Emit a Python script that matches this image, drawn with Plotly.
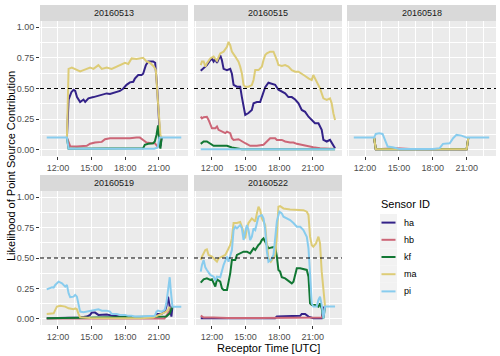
import plotly.graph_objects as go

# facet dates and sensors
dates = ["20160513", "20160515", "20160518", "20160519", "20160522"]
sensors = ["ha", "hb", "kf", "ma", "pi"]
colors = {"ha": "#332288", "hb": "#CC6677", "kf": "#117733",
          "ma": "#DDCC77", "pi": "#88CCEE"}

# (hour of day UTC, likelihood)
ha_0513 = [(12.8, 0.1), (12.95, 0.41), (13.2, 0.47), (13.39, 0.49), (13.54, 0.48), (13.7, 0.43),
           (13.98, 0.39), (14.28, 0.41), (14.43, 0.39), (14.72, 0.42), (15.17, 0.43), (15.61, 0.44), (16.05, 0.455),
           (16.35, 0.46), (16.64, 0.455), (17.09, 0.47), (17.53, 0.48), (17.83, 0.50), (18.12, 0.53), (18.42, 0.55),
           (18.72, 0.555), (18.86, 0.58), (19.16, 0.61), (19.46, 0.61), (19.6, 0.62), (19.84, 0.69), (20.05, 0.72),
           (20.49, 0.72), (20.67, 0.71), (20.85, 0.51), (21.02, 0.24), (21.14, 0.03), (21.25, 0.1)]
hb_0513 = [(12.8, 0.1), (13.09, 0.03), (13.69, 0.027), (14.28, 0.027), (14.57, 0.033), (14.87, 0.05),
           (15.31, 0.06), (15.91, 0.065), (16.2, 0.087), (16.64, 0.095), (17.24, 0.095), (17.83, 0.09), (18.42, 0.095),
           (19.01, 0.10), (19.31, 0.10), (19.6, 0.08), (19.9, 0.06), (20.34, 0.054), (20.64, 0.054), (20.85, 0.03),
           (21.02, 0.027), (21.14, 0.095), (21.25, 0.1)]
kf_0513 = [(12.8, 0.1), (12.95, 0.01), (19.6, 0.014), (19.75, 0.041), (20.05, 0.049), (20.49, 0.054),
           (20.64, 0.068), (20.79, 0.122), (20.93, 0.2), (21.02, 0.08), (21.14, 0.01), (21.25, 0.1)]
ma_0513 = [(12.8, 0.1), (12.95, 0.66), (13.24, 0.67), (13.54, 0.66), (13.98, 0.64), (14.28, 0.65),
           (14.57, 0.66), (14.87, 0.67), (15.17, 0.66), (15.61, 0.69), (15.91, 0.66), (16.35, 0.67), (16.79, 0.66),
           (17.24, 0.68), (17.68, 0.70), (17.98, 0.71), (18.27, 0.70), (18.57, 0.745), (19.01, 0.74), (19.31, 0.745),
           (19.6, 0.75), (19.9, 0.72), (20.2, 0.71), (20.55, 0.68), (20.73, 0.65), (20.93, 0.38), (21.14, 0.12),
           (21.25, 0.1)]
pi_0513 = [(11.0, 0.1), (12.8, 0.1), (12.95, 0.01), (20.6, 0.01), (20.9, 0.02), (21.05, 0.1), (23.0, 0.1)]

ha_0515 = [(11.0, 0.645), (11.11, 0.655), (11.26, 0.66), (11.55, 0.69), (11.85, 0.73), (12.0, 0.745), (12.15, 0.72),
           (12.3, 0.74), (12.45, 0.71), (12.59, 0.737), (12.74, 0.77), (12.89, 0.73), (13.04, 0.66), (13.34, 0.65),
           (13.63, 0.66), (13.78, 0.62), (13.93, 0.53), (14.23, 0.515), (14.52, 0.515), (14.67, 0.43), (14.82, 0.35),
           (14.97, 0.285), (15.26, 0.3), (15.56, 0.325), (15.71, 0.38), (16.01, 0.39), (16.3, 0.39), (16.45, 0.43),
           (16.6, 0.47), (16.75, 0.51), (17.04, 0.547), (17.34, 0.54), (17.64, 0.53), (17.93, 0.49), (18.23, 0.474),
           (18.53, 0.46), (18.82, 0.43), (19.12, 0.43), (19.42, 0.41), (19.72, 0.38), (20.01, 0.325), (20.31, 0.31),
           (20.61, 0.27), (20.9, 0.244), (21.19, 0.217), (21.5, 0.217), (21.79, 0.163), (21.94, 0.081),
           (22.24, 0.068), (22.53, 0.081), (22.83, 0.041), (22.98, 0.014)]
hb_0515 = [(11.0, 0.27), (11.11, 0.257), (11.26, 0.266), (11.55, 0.27), (11.7, 0.244), (11.85, 0.203), (12.0, 0.176),
           (12.3, 0.176), (12.45, 0.19), (12.59, 0.163), (12.89, 0.149), (13.19, 0.136), (13.34, 0.149),
           (13.63, 0.136), (13.78, 0.095), (13.93, 0.081), (14.37, 0.087), (14.67, 0.068), (14.97, 0.054),
           (15.41, 0.033), (16.01, 0.033), (16.6, 0.041), (16.9, 0.068), (17.19, 0.095), (17.64, 0.095),
           (17.79, 0.081), (18.23, 0.081), (18.53, 0.068), (18.97, 0.06), (19.27, 0.06), (19.57, 0.049),
           (20.01, 0.041), (20.46, 0.027), (21.04, 0.022), (21.64, 0.014), (22.98, 0.008)]
kf_0515 = [(11.0, 0.049), (11.26, 0.068), (11.55, 0.068), (11.85, 0.049), (12.15, 0.033), (12.74, 0.033),
           (13.34, 0.033), (13.78, 0.019), (14.23, 0.011), (14.67, 0.005), (22.98, 0.005)]
ma_0515 = [(11.0, 0.69), (11.11, 0.72), (11.26, 0.72), (11.41, 0.678), (11.55, 0.705), (11.85, 0.745), (12.15, 0.76),
           (12.45, 0.726), (12.74, 0.786), (13.04, 0.80), (13.34, 0.84), (13.48, 0.88), (13.63, 0.853), (13.78, 0.80),
           (14.08, 0.76), (14.37, 0.718), (14.52, 0.678), (14.67, 0.623), (14.82, 0.528), (14.97, 0.515),
           (15.26, 0.515), (15.56, 0.528), (15.71, 0.569), (15.86, 0.65), (16.15, 0.65), (16.45, 0.678),
           (16.6, 0.732), (16.75, 0.772), (16.9, 0.786), (17.19, 0.80), (17.49, 0.80), (17.64, 0.772), (17.79, 0.732),
           (17.93, 0.691), (18.23, 0.683), (18.53, 0.691), (18.82, 0.678), (19.12, 0.65), (19.42, 0.637),
           (19.72, 0.637), (20.01, 0.623), (20.31, 0.602), (20.61, 0.583), (20.9, 0.569), (21.04, 0.61),
           (21.35, 0.556), (21.64, 0.501), (21.94, 0.42), (22.24, 0.407), (22.53, 0.42), (22.68, 0.379),
           (22.83, 0.298), (22.98, 0.244)]
pi_0515 = [(11.0, 0.005), (17.0, 0.005), (22.98, 0.005)]

ha_0518 = [(12.8, 0.1), (12.95, 0.005), (21.0, 0.005), (21.15, 0.1)]
hb_0518 = [(12.8, 0.1), (12.95, 0.005), (14.8, 0.014), (16.0, 0.008), (21.0, 0.005), (21.15, 0.1)]
kf_0518 = [(12.8, 0.1), (12.95, 0.005), (21.0, 0.005), (21.15, 0.1)]
ma_0518 = [(12.8, 0.1), (12.95, 0.005), (21.0, 0.005), (21.15, 0.1)]
pi_0518 = [(11.0, 0.1), (12.8, 0.1), (12.95, 0.13), (13.25, 0.135), (13.55, 0.13), (13.7, 0.095), (14.0, 0.027),
           (14.44, 0.022), (14.74, 0.014), (15.04, 0.008), (18.01, 0.008), (18.61, 0.014), (18.9, 0.049),
           (19.5, 0.054), (19.8, 0.095), (20.1, 0.122), (20.54, 0.116), (20.84, 0.103), (21.0, 0.1), (23.0, 0.1)]

ha_0519 = [(11.0, 0.005), (13.69, 0.005), (13.98, 0.011), (14.57, 0.019), (14.87, 0.033), (15.02, 0.052),
           (15.31, 0.052), (15.61, 0.033), (15.91, 0.033), (16.35, 0.036), (16.94, 0.025), (17.53, 0.019),
           (18.12, 0.014), (19.31, 0.011), (20.64, 0.014), (20.79, 0.041), (21.23, 0.041), (21.53, 0.06),
           (21.67, 0.101), (21.82, 0.183), (21.97, 0.101), (22.12, 0.019), (22.21, 0.1)]
hb_0519 = [(11.0, 0.003), (21.5, 0.003), (22.21, 0.1)]
kf_0519 = [(11.0, 0.005), (21.67, 0.019), (21.97, 0.046), (22.21, 0.1)]
ma_0519 = [(11.0, 0.041), (11.32, 0.041), (11.62, 0.046), (11.76, 0.074), (11.91, 0.101), (12.21, 0.107),
           (12.65, 0.101), (12.95, 0.087), (13.39, 0.079), (13.54, 0.087), (13.69, 0.079), (13.83, 0.041),
           (13.98, 0.014), (14.87, 0.008), (16.35, 0.005), (17.83, 0.003), (19.31, 0.005), (20.49, 0.011),
           (20.79, 0.025), (21.23, 0.046), (21.67, 0.06), (21.82, 0.074), (21.97, 0.101)]
pi_0519 = [(11.0, 0.243), (11.32, 0.251), (11.47, 0.26), (11.62, 0.257), (11.76, 0.279), (12.06, 0.306),
           (12.36, 0.292), (12.65, 0.265), (12.8, 0.279), (12.95, 0.21), (13.09, 0.178), (13.39, 0.183),
           (13.54, 0.197), (13.69, 0.183), (13.83, 0.115), (13.98, 0.06), (14.28, 0.055), (14.57, 0.06),
           (14.87, 0.068), (15.17, 0.074), (15.61, 0.079), (15.91, 0.068), (16.35, 0.068), (16.64, 0.06),
           (16.79, 0.041), (17.24, 0.041), (17.53, 0.033), (17.98, 0.033), (18.27, 0.025), (18.57, 0.025),
           (18.86, 0.019), (19.31, 0.019), (20.2, 0.019), (20.64, 0.025), (20.79, 0.06), (20.93, 0.068),
           (21.23, 0.06), (21.53, 0.074), (21.67, 0.128), (21.82, 0.238), (21.97, 0.342), (22.06, 0.238),
           (22.21, 0.1), (23.0, 0.1)]

ha_0522 = [(11.0, 0.005), (17.64, 0.005), (17.79, 0.019), (18.08, 0.019), (19.27, 0.019), (19.87, 0.025),
           (20.01, 0.041), (20.31, 0.041), (20.61, 0.019), (21.04, 0.005), (21.79, 0.005), (21.98, 0.101)]
hb_0522 = [(11.0, 0.027), (11.11, 0.019), (11.26, 0.011), (12.15, 0.011), (13.34, 0.008), (16.3, 0.008),
           (19.27, 0.011), (21.5, 0.011), (21.79, 0.011), (21.94, 0.046), (22.09, 0.101)]
kf_0522 = [(11.0, 0.298), (11.26, 0.325), (11.55, 0.333), (11.85, 0.32), (12.0, 0.325), (12.15, 0.292),
           (12.3, 0.265), (12.45, 0.325), (12.74, 0.306), (12.89, 0.251), (13.04, 0.238), (13.34, 0.238),
           (13.48, 0.306), (13.63, 0.374), (13.78, 0.484), (14.08, 0.484), (14.23, 0.525), (14.52, 0.538),
           (14.82, 0.552), (15.12, 0.552), (15.41, 0.538), (15.71, 0.579), (15.86, 0.566), (16.15, 0.607),
           (16.3, 0.62), (16.45, 0.648), (16.6, 0.661), (16.75, 0.634), (17.04, 0.579), (17.34, 0.587),
           (17.64, 0.593), (17.79, 0.511), (17.93, 0.402), (18.08, 0.388), (18.23, 0.342), (18.53, 0.333),
           (18.82, 0.314), (19.12, 0.292), (19.27, 0.306), (19.42, 0.361), (19.57, 0.415), (19.87, 0.415),
           (20.16, 0.407), (20.46, 0.402), (20.61, 0.347), (20.75, 0.128), (20.9, 0.115), (21.19, 0.115),
           (21.5, 0.101), (21.64, 0.128), (21.79, 0.087), (21.94, 0.005), (22.09, 0.101)]
ma_0522 = [(11.0, 0.484), (11.11, 0.511), (11.41, 0.566), (11.55, 0.571), (11.7, 0.525), (12.0, 0.511),
           (12.3, 0.484), (12.45, 0.47), (12.59, 0.497), (12.89, 0.511), (13.19, 0.525), (13.34, 0.552),
           (13.63, 0.607), (13.78, 0.661), (13.93, 0.787), (14.23, 0.787), (14.52, 0.795), (14.67, 0.757),
           (14.82, 0.716), (14.97, 0.661), (15.12, 0.743), (15.26, 0.787), (15.56, 0.825), (15.86, 0.80),
           (16.01, 0.866), (16.15, 0.921), (16.3, 0.893), (16.45, 0.825), (16.6, 0.80), (16.75, 0.77),
           (16.9, 0.607), (17.04, 0.497), (17.25, 0.47), (17.49, 0.511), (17.64, 0.525), (17.79, 0.675),
           (17.93, 0.921), (18.08, 0.926), (18.38, 0.907), (18.97, 0.899), (19.57, 0.899), (20.16, 0.893),
           (20.46, 0.88), (20.61, 0.852), (20.75, 0.675), (20.9, 0.607), (21.04, 0.593), (21.28, 0.62),
           (21.5, 0.675), (21.64, 0.62), (21.79, 0.388), (21.94, 0.21), (22.09, 0.101)]
pi_0522 = [(11.0, 0.388), (11.11, 0.443), (11.26, 0.484), (11.41, 0.423), (11.55, 0.402), (11.85, 0.361),
           (12.15, 0.347), (12.3, 0.314), (12.45, 0.347), (12.74, 0.342), (13.04, 0.443), (13.34, 0.511),
           (13.48, 0.47), (13.63, 0.525), (13.78, 0.566), (13.93, 0.73), (14.08, 0.757), (14.23, 0.743),
           (14.52, 0.77), (14.67, 0.743), (14.82, 0.648), (14.97, 0.716), (15.12, 0.77), (15.26, 0.73),
           (15.41, 0.648), (15.56, 0.675), (15.71, 0.743), (15.86, 0.73), (16.01, 0.787), (16.15, 0.839),
           (16.45, 0.852), (16.6, 0.825), (16.75, 0.73), (16.9, 0.552), (17.04, 0.47), (17.25, 0.484),
           (17.49, 0.525), (17.79, 0.80), (18.02, 0.88), (18.23, 0.866), (18.38, 0.839), (18.68, 0.825),
           (18.97, 0.811), (19.27, 0.787), (19.57, 0.757), (19.87, 0.757), (20.16, 0.73), (20.46, 0.675),
           (20.61, 0.579), (20.75, 0.374), (20.9, 0.128), (21.04, 0.101), (21.35, 0.101), (21.5, 0.156),
           (21.64, 0.183), (21.79, 0.115), (21.94, 0.005), (22.09, 0.101), (22.98, 0.101)]

series = {
    "20160513": [ha_0513, hb_0513, kf_0513, ma_0513, pi_0513],
    "20160515": [ha_0515, hb_0515, kf_0515, ma_0515, pi_0515],
    "20160518": [ha_0518, hb_0518, kf_0518, ma_0518, pi_0518],
    "20160519": [ha_0519, hb_0519, kf_0519, ma_0519, pi_0519],
    "20160522": [ha_0522, hb_0522, kf_0522, ma_0522, pi_0522],
}

threshold = 0.5
x_ticks = [12, 15, 18, 21]
x_labels = ["12:00", "15:00", "18:00", "21:00"]
y_ticks = [0, 0.25, 0.5, 0.75, 1.0]
y_labels = ["0.00", "0.25", "0.50", "0.75", "1.00"]

W, H = 500, 356
def px(x):
    return x / W
def py(y):
    return 1 - y / H

# panel boxes in pixels: left, right, top, bottom
cols = [(40, 188), (194, 342), (347, 496)]
rows = [(21, 156), (191, 325)]
STRIP = 16
FONT = "Liberation Sans, Arial, sans-serif"

fig = go.Figure()
shapes = []
annotations = []

for i, d in enumerate(dates):
    n = i + 1
    r, c = divmod(i, 3)
    x0, x1 = cols[c]
    y0, y1 = rows[r]
    xa = "x" if n == 1 else f"x{n}"
    ya = "y" if n == 1 else f"y{n}"
    for s, pts in zip(sensors, series[d]):
        fig.add_trace(go.Scatter(
            x=[p[0] for p in pts], y=[p[1] for p in pts], mode="lines",
            line=dict(color=colors[s], width=2), name=s, showlegend=False,
            xaxis=xa, yaxis=ya))

    left_col = c == 0
    fig.update_layout({
        f"xaxis{n if n > 1 else ''}": dict(
            domain=[px(x0), px(x1)], anchor=ya, range=[10.4, 23.6],
            tickvals=x_ticks, ticktext=x_labels, showgrid=True,
            gridcolor="white", gridwidth=1.3, zeroline=False, showline=False,
            ticks="outside", ticklen=3, tickcolor="#333333", tickwidth=1,
            tickfont=dict(size=9, color="#4D4D4D", family=FONT),
            minor=dict(tickvals=[10.5, 13.5, 16.5, 19.5, 22.5], showgrid=True,
                       gridcolor="white", gridwidth=0.6, ticks=""),
            automargin=False),
        f"yaxis{n if n > 1 else ''}": dict(
            domain=[py(y1), py(y0)], anchor=xa, range=[-0.05, 1.05],
            tickvals=y_ticks, ticktext=y_labels, showgrid=True,
            gridcolor="white", gridwidth=1.3, zeroline=False, showline=False,
            showticklabels=left_col, ticks="outside" if left_col else "",
            ticklen=3, tickcolor="#333333", tickwidth=1,
            tickfont=dict(size=9, color="#4D4D4D", family=FONT),
            minor=dict(tickvals=[0.125, 0.375, 0.625, 0.875], showgrid=True,
                       gridcolor="white", gridwidth=0.6, ticks=""),
            automargin=False),
    })

    # threshold line
    shapes.append(dict(type="line", xref=f"{xa} domain", yref=ya, x0=0, x1=1,
                       y0=threshold, y1=threshold,
                       line=dict(color="black", width=1, dash="4px,3px")))
    # strip
    shapes.append(dict(type="rect", xref="paper", yref="paper", x0=px(x0), x1=px(x1),
                       y0=py(y0), y1=py(y0 - STRIP), fillcolor="#D9D9D9",
                       line=dict(width=0), layer="below"))
    annotations.append(dict(text=d, xref="paper", yref="paper", x=px((x0 + x1) / 2),
                            y=py(y0 - STRIP / 2), showarrow=False, xanchor="center",
                            yanchor="middle", font=dict(size=9, color="#1A1A1A", family=FONT)))

# axis titles
annotations.append(dict(text="Receptor Time [UTC]", xref="paper", yref="paper",
                        x=px(268), y=py(347.5), showarrow=False, xanchor="center",
                        yanchor="middle", font=dict(size=11, color="black", family=FONT)))
annotations.append(dict(text="Likelihood of Point Source Contribution", xref="paper",
                        yref="paper", x=px(11), y=py(166), textangle=-90, showarrow=False,
                        xanchor="center", yanchor="middle",
                        font=dict(size=11, color="black", family=FONT)))

# legend, drawn ggplot style
annotations.append(dict(text="Sensor ID", xref="paper", yref="paper", x=px(379), y=py(204),
                        showarrow=False, xanchor="left", yanchor="middle",
                        font=dict(size=11, color="black", family=FONT)))
key_top, key_h = 214, 17.2
for k, s in enumerate(sensors):
    ky = key_top + k * key_h
    shapes.append(dict(type="rect", xref="paper", yref="paper", x0=px(380), x1=px(397),
                       y0=py(ky + key_h), y1=py(ky), fillcolor="#F2F2F2", line=dict(width=0)))
    shapes.append(dict(type="line", xref="paper", yref="paper", x0=px(381.5), x1=px(395.5),
                       y0=py(ky + key_h / 2), y1=py(ky + key_h / 2),
                       line=dict(color=colors[s], width=2)))
    annotations.append(dict(text=s, xref="paper", yref="paper", x=px(402), y=py(ky + key_h / 2),
                            showarrow=False, xanchor="left", yanchor="middle",
                            font=dict(size=9, color="black", family=FONT)))

fig.update_layout(
    width=W, height=H,
    margin=dict(l=0, r=0, t=0, b=0),
    paper_bgcolor="white",
    plot_bgcolor="#EBEBEB",
    shapes=shapes,
    annotations=annotations,
    showlegend=False,
    font=dict(family=FONT),
)

# drop the browser's default body margin so the figure sits at the page origin
fig.write_html("out.html", config={"displayModeBar": False},
               post_script="document.body.style.margin='0';")
